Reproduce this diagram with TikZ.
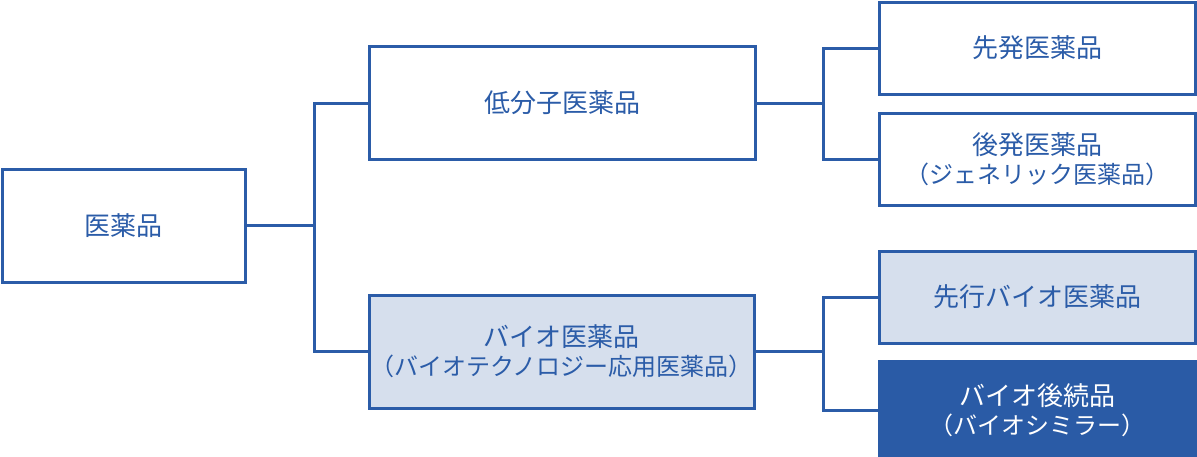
\documentclass[tikz,border=0pt]{standalone}
\usepackage{fontspec}
\setmainfont{Noto Sans CJK JP}
\definecolor{lineblue}{HTML}{2B5CA8}
\definecolor{lightfill}{HTML}{D6DFED}
\definecolor{darkfill}{HTML}{2A5BA6}
\newcommand{\mainline}[1]{{\fontsize{26}{30}\selectfont #1}}
\newcommand{\subline}[1]{{\fontsize{24}{30}\selectfont #1}}
\tikzset{
  box/.style={draw=lineblue, line width=3pt, fill=white, text=lineblue,
    align=center, inner sep=0pt, font={\fontsize{26}{30}\selectfont}},
  lbox/.style={box, fill=lightfill},
  dbox/.style={box, fill=darkfill, draw=darkfill, text=white},
  conn/.style={draw=lineblue, line width=3pt},
}
\begin{document}
\begin{tikzpicture}[x=1pt,y=-1pt]
\useasboundingbox (0,0) rectangle (1197,456);
\node[box, minimum width=242.5pt, minimum height=113pt] (yak) at (123.75,225.5) {医薬品};
\node[box, minimum width=386pt, minimum height=113pt] (tei) at (562,103) {低分子医薬品};
\node[lbox, minimum width=385pt, minimum height=113pt] (bio) at (561.5,351.5)
  {\mainline{バイオ医薬品}\\[-1pt]\subline{（バイオテクノロジー応用医薬品）}};
\node[box, minimum width=316pt, minimum height=92pt] (sen) at (1037,48) {先発医薬品};
\node[box, minimum width=316pt, minimum height=92pt] (kou) at (1037,159.5)
  {\mainline{後発医薬品}\\[-1pt]\subline{（ジェネリック医薬品）}};
\node[lbox, minimum width=316pt, minimum height=92pt] (senb) at (1037,297) {先行バイオ医薬品};
\node[dbox, minimum width=316pt, minimum height=98pt] (bs) at (1037,410)
  {\mainline{バイオ後続品}\\[-1pt]\subline{（バイオシミラー）}};
\coordinate (j1) at (314,225.5);
\coordinate (j2) at (823,103);
\coordinate (j3) at (823,351.5);
\draw[conn] (yak.east) -- (j1);
\draw[conn] (tei.west) -| (j1) |- (bio.west);
\draw[conn] (tei.east) -- (j2);
\draw[conn] (sen.west) -| (j2) |- (kou.west);
\draw[conn] (bio.east) -- (j3);
\draw[conn] (senb.west) -| (j3) |- (bs.west);
\end{tikzpicture}
\end{document}
